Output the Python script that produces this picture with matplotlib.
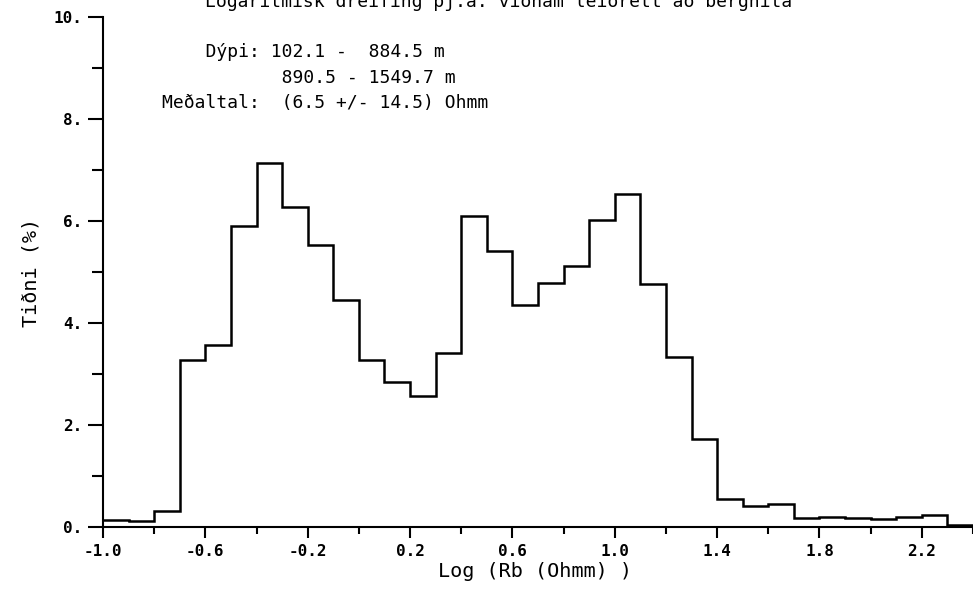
import numpy as np
import matplotlib.pyplot as plt
from matplotlib.ticker import MultipleLocator

# Frequency (%) of log10 resistivity in 0.1 wide bins starting at -1.0
bin_start = -1.0
bin_width = 0.1
frequency = [
    0.13, 0.11, 0.32, 3.28, 3.57, 5.90, 7.14, 6.28, 5.53, 4.45,
    3.28, 2.85, 2.56, 3.41, 6.10, 5.41, 4.35, 4.78, 5.12, 6.01,
    6.52, 4.77, 3.33, 1.72, 0.54, 0.42, 0.46, 0.17, 0.20, 0.18,
    0.16, 0.20, 0.24, 0.03,
]

x_ticks = [-1.0, -0.6, -0.2, 0.2, 0.6, 1.0, 1.4, 1.8, 2.2]
x_ticklabels = ["-1.0", "-0.6", "-0.2", "0.2", "0.6", "1.0", "1.4", "1.8", "2.2"]
y_ticks = [0, 2, 4, 6, 8, 10]
y_ticklabels = ["0.", "2.", "4.", "6.", "8.", "10."]

title = "Logaritmisk dreifing þj.a. viðnám leiðrétt að berghita"
info_lines = [
    "    Dýpi: 102.1 -  884.5 m",
    "           890.5 - 1549.7 m",
    "Meðaltal:  (6.5 +/- 14.5) Ohmm",
]

MONO = "DejaVu Sans Mono"
W, H = 973, 591


def px(x, y):
    """Pixel position (from top-left) to figure fraction."""
    return x / W, 1 - y / H


edges = bin_start + bin_width * np.arange(len(frequency) + 1)

fig = plt.figure(figsize=(W / 100, H / 100), dpi=100)
ax = fig.add_axes([103 / W, 64 / H, 870 / W, 510 / H])

ax.stairs(frequency, edges, baseline=None, color="black", linewidth=1.8)

ax.set_xlim(-1.0, 2.4)
ax.set_ylim(0, 10)

for side in ("top", "right"):
    ax.spines[side].set_visible(False)
for side in ("left", "bottom"):
    ax.spines[side].set_linewidth(1.5)

ax.set_xticks(x_ticks, x_ticklabels, fontfamily=MONO, fontweight="bold", fontsize=11.5)
ax.set_yticks(y_ticks, y_ticklabels, fontfamily=MONO, fontweight="bold", fontsize=11.5)
ax.xaxis.set_minor_locator(MultipleLocator(0.2))
ax.yaxis.set_minor_locator(MultipleLocator(1))

ax.tick_params(axis="x", which="major", length=8, width=1.5, pad=4)
ax.tick_params(axis="x", which="minor", length=5, width=1.5)
ax.tick_params(axis="y", which="major", length=11, width=1.5, pad=4)
ax.tick_params(axis="y", which="minor", length=8, width=1.5)

ax.set_xlabel("Log (Rb (Ohmm) )", fontfamily=MONO, fontsize=14.5, va="baseline")
ax.xaxis.set_label_coords(0.4966, -0.098)
ax.set_ylabel("Tiðni (%)", fontfamily=MONO, fontsize=14.5, va="center")
ax.yaxis.set_label_coords(-0.083, 0.5)

# title sits partly above the top edge
fig.text(*px(499, 7), title, ha="center", va="baseline", fontfamily=MONO, fontsize=13)

for line, base in zip(info_lines, [57.3, 82.7, 108.3]):
    fig.text(*px(162, base), line, ha="left", va="baseline", fontfamily=MONO, fontsize=13)

fig.savefig("out.png", dpi=100)
